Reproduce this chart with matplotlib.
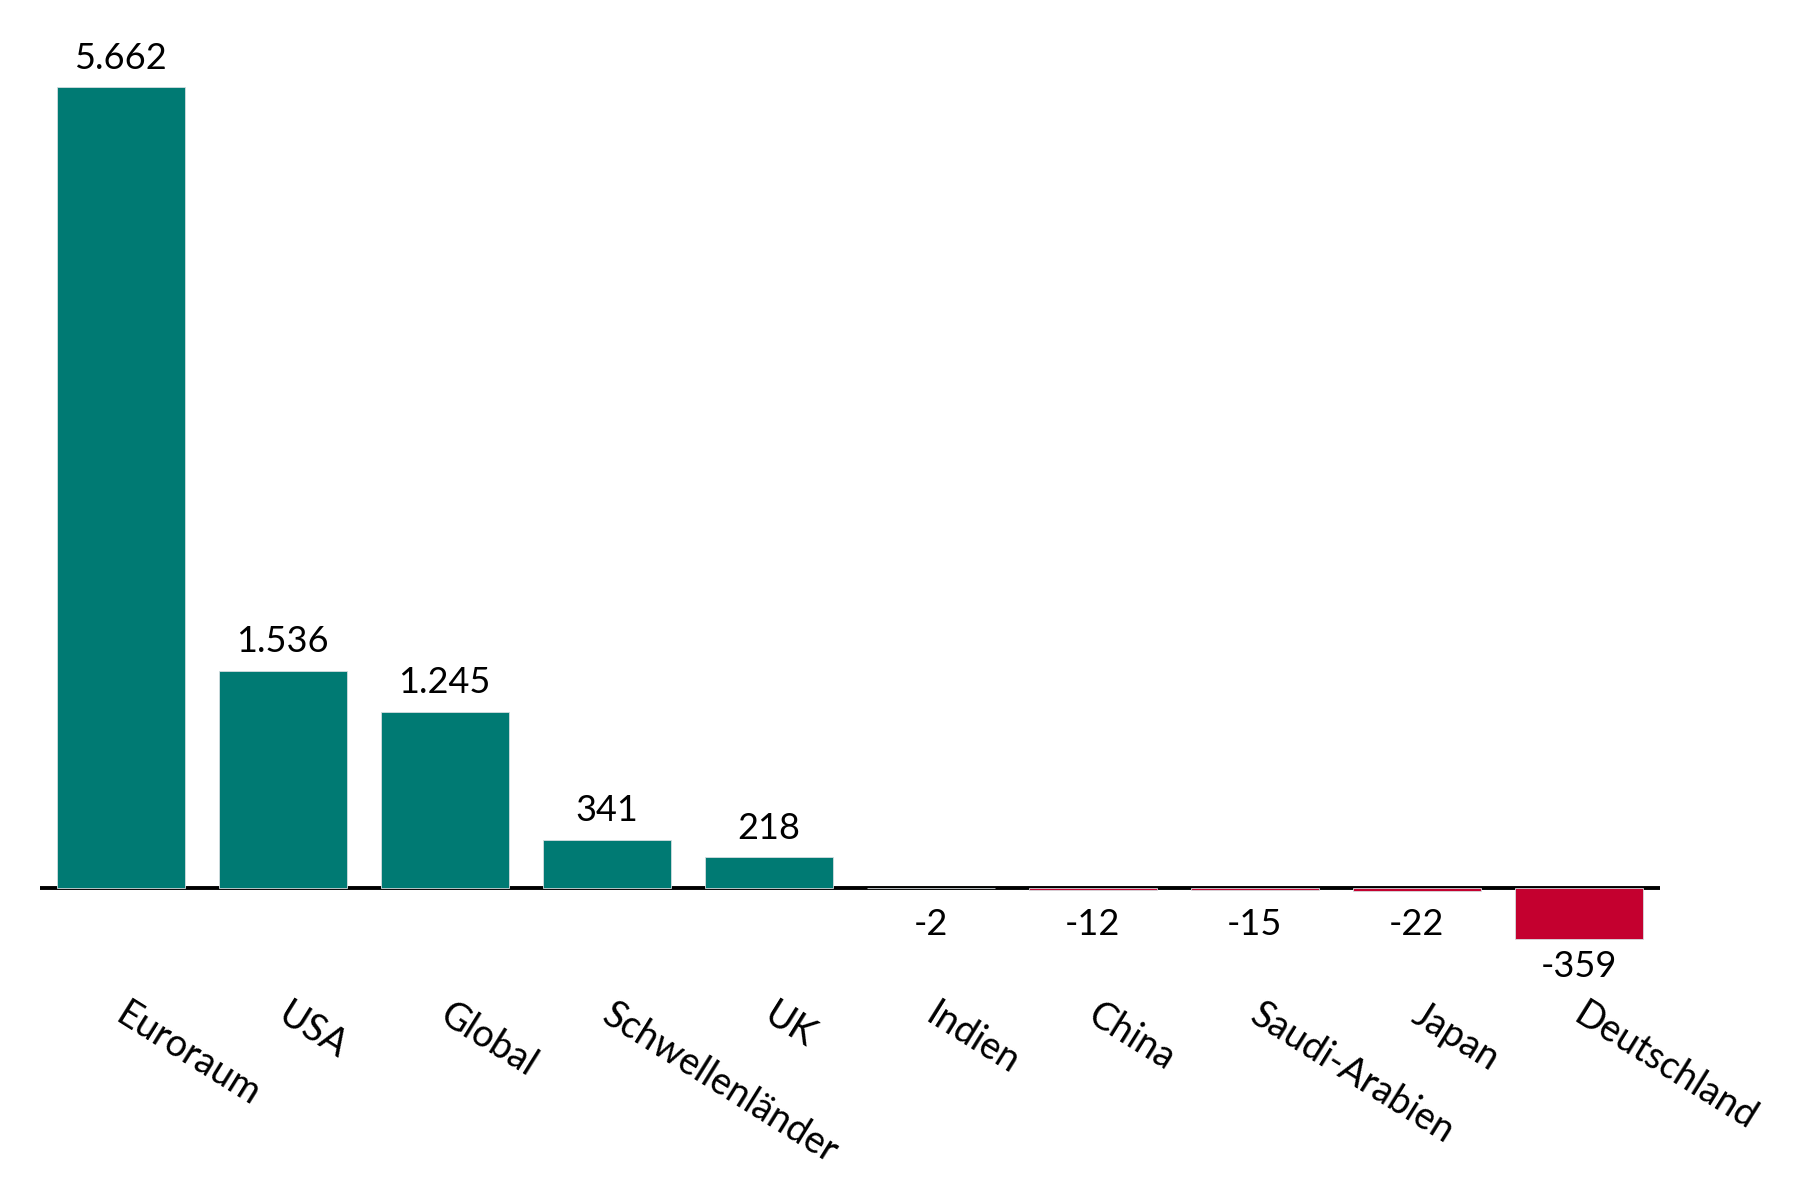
import matplotlib
matplotlib.use("Agg")
import matplotlib.pyplot as plt

categories = ["Euroraum", "USA", "Global", "Schwellenländer", "UK",
              "Indien", "China", "Saudi-Arabien", "Japan", "Deutschland"]
values = [5662, 1536, 1245, 341, 218, -2, -12, -15, -22, -359]
value_labels = ["5.662", "1.536", "1.245", "341", "218",
                "-2", "-12", "-15", "-22", "-359"]

POS = "#007A73"
NEG = "#C4002F"

plt.rcParams['font.family'] = ['Lato', 'DejaVu Sans']

fig = plt.figure(figsize=(18, 12), dpi=100)
ax = fig.add_axes([0.022, 0.1868, 0.900, 0.784])

x = list(range(len(categories)))
colors = [POS if v >= 0 else NEG for v in values]
ax.bar(x, values, width=0.79, color=colors, edgecolor="#d5dde0", linewidth=0.6, zorder=3)
ax.axhline(0, color="black", lw=2.8, zorder=2)

for i, (v, lab) in enumerate(zip(values, value_labels)):
    if v >= 0:
        ax.annotate(lab, xy=(i, v), xytext=(0, 9), textcoords="offset points",
                    ha="center", va="bottom", fontsize=26, color="black")
    else:
        ax.annotate(lab, xy=(i, min(v, -60)), xytext=(0, -8), textcoords="offset points",
                    ha="center", va="top", fontsize=26, color="black")

for i, c in enumerate(categories):
    ax.annotate(c, xy=(i, 0), xytext=(6, -78), textcoords="offset points",
                ha="left", va="top", rotation=-32, rotation_mode="anchor",
                fontsize=27, color="black")

ax.set_xlim(-0.5, 9.5)
ax.set_ylim(-620, 6030)
ax.axis("off")

fig.savefig("out.png", dpi=100, facecolor="white")
